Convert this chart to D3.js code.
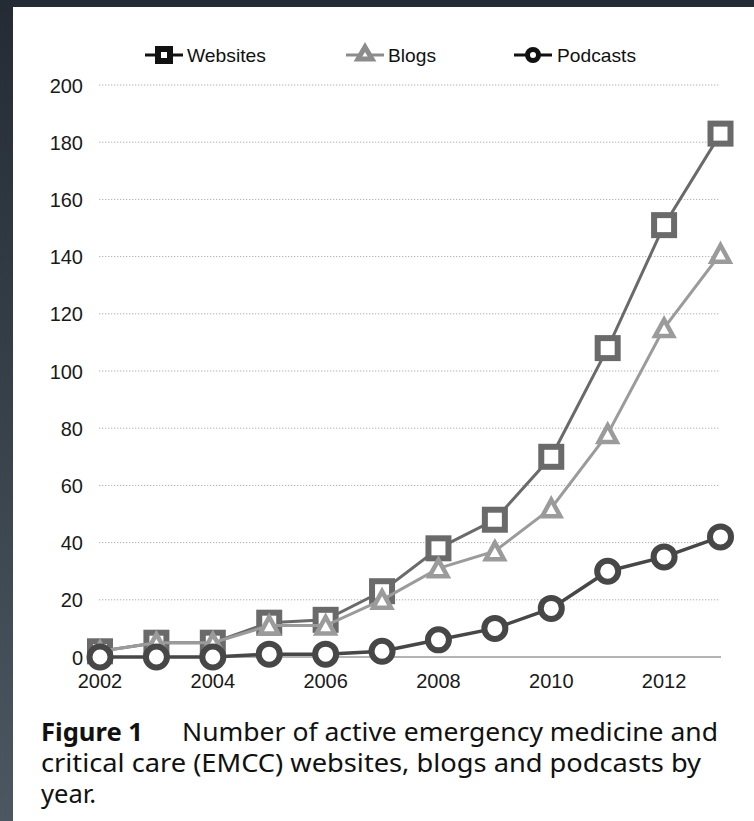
<!DOCTYPE html>
<html>
<head>
<meta charset="utf-8">
<script src="https://cdn.jsdelivr.net/npm/d3@7"></script>
<style>
  html, body { margin: 0; padding: 0; }
  body {
    width: 754px; height: 821px; overflow: hidden;
    background: linear-gradient(#242b34, #4c5761);
  }
  #chart { position: absolute; left: 0; top: 0; }
</style>
</head>
<body>
<div id="chart"></div>
<script>
// data
var years = [2002, 2003, 2004, 2005, 2006, 2007, 2008, 2009, 2010, 2011, 2012, 2013];
var websites = [2, 5, 5, 12, 13, 23, 38, 48, 70, 108, 151, 183];
var blogs = [2, 5, 5, 11, 11, 20, 31, 37, 52, 78, 115, 141];
var podcasts = [0, 0, 0, 1, 1, 2, 6, 10, 17, 30, 35, 42];
var yTicks = [0, 20, 40, 60, 80, 100, 120, 140, 160, 180, 200];
var xTicks = [2002, 2004, 2006, 2008, 2010, 2012];
var seriesNames = ["Websites", "Blogs", "Podcasts"];
var captionLines = [
  "Number of active emergency medicine and",
  "critical care (EMCC) websites, blogs and podcasts by",
  "year."
];

var W = 754, H = 821;

var svg = d3.select("#chart").append("svg")
  .attr("width", W).attr("height", H);

// white page
svg.append("rect").attr("x", 13).attr("y", 7)
  .attr("width", W - 13).attr("height", H - 7).attr("fill", "#fff");

var x = d3.scaleLinear().domain([2002, 2013]).range([100, 720.5]);
var y = d3.scaleLinear().domain([0, 200]).range([657, 85]);

var tickFont = "'Liberation Sans', Arial, sans-serif";

// dotted gridlines
svg.append("g").selectAll("line").data(yTicks.filter(function (d) { return d > 0; }))
  .enter().append("line")
  .attr("x1", 99).attr("x2", 720)
  .attr("y1", function (d) { return y(d); }).attr("y2", function (d) { return y(d); })
  .attr("stroke", "#b0b0b0").attr("stroke-width", 1)
  .attr("stroke-dasharray", "1.3,1.7");

// baseline
svg.append("line").attr("x1", 100).attr("x2", 721)
  .attr("y1", y(0)).attr("y2", y(0))
  .attr("stroke", "#9a9a9a").attr("stroke-width", 1.5);

// y labels
svg.append("g").selectAll("text").data(yTicks).enter().append("text")
  .attr("x", 83).attr("y", function (d) { return y(d) + 7.5; })
  .attr("text-anchor", "end")
  .attr("font-family", tickFont).attr("font-size", 20).attr("fill", "#1a1a1a")
  .text(function (d) { return d; });

// x labels
svg.append("g").selectAll("text").data(xTicks).enter().append("text")
  .attr("x", function (d) { return x(d); }).attr("y", 688)
  .attr("text-anchor", "middle")
  .attr("font-family", tickFont).attr("font-size", 20).attr("fill", "#1a1a1a")
  .text(function (d) { return d; });

function rows(vals) {
  return years.map(function (yr, i) { return { year: yr, value: vals[i] }; });
}

var line = d3.line()
  .x(function (d) { return x(d.year); })
  .y(function (d) { return y(d.value); });

var triPath = "M0,-9.5 L9,7 L-9,7 Z";

// websites
var wData = rows(websites);
svg.append("path").datum(wData).attr("d", line)
  .attr("fill", "none").attr("stroke", "#6a6a6a").attr("stroke-width", 3);
svg.append("g").selectAll("rect").data(wData).enter().append("rect")
  .attr("x", function (d) { return x(d.year) - 10; })
  .attr("y", function (d) { return y(d.value) - 10; })
  .attr("width", 20).attr("height", 20)
  .attr("fill", "#fff").attr("stroke", "#6a6a6a").attr("stroke-width", 6);

// blogs
var bData = rows(blogs);
svg.append("path").datum(bData).attr("d", line)
  .attr("fill", "none").attr("stroke", "#9b9b9b").attr("stroke-width", 3);
svg.append("g").selectAll("path").data(bData).enter().append("path")
  .attr("d", triPath)
  .attr("transform", function (d) { return "translate(" + x(d.year) + "," + (y(d.value) + 1) + ")"; })
  .attr("fill", "#fff").attr("stroke", "#9b9b9b").attr("stroke-width", 4.5)
  .attr("stroke-linejoin", "miter");

// podcasts
var pData = rows(podcasts);
svg.append("path").datum(pData).attr("d", line)
  .attr("fill", "none").attr("stroke", "#474747").attr("stroke-width", 3.5);
svg.append("g").selectAll("circle").data(pData).enter().append("circle")
  .attr("cx", function (d) { return x(d.year); })
  .attr("cy", function (d) { return y(d.value); })
  .attr("r", 10.5)
  .attr("fill", "#fff").attr("stroke", "#474747").attr("stroke-width", 6);

// legend
var legend = [
  { name: seriesNames[0], x0: 145, tx: 187, tw: 79, color: "#111", kind: "square" },
  { name: seriesNames[1], x0: 346, tx: 388, tw: 48, color: "#8c8c8c", kind: "tri" },
  { name: seriesNames[2], x0: 514, tx: 557, tw: 79, color: "#111", kind: "circle" }
];
var ly = 55;
var lg = svg.append("g").selectAll("g").data(legend).enter().append("g");
lg.append("line")
  .attr("x1", function (d) { return d.x0; }).attr("x2", function (d) { return d.x0 + 38; })
  .attr("y1", ly).attr("y2", ly)
  .attr("stroke", function (d) { return d.color; }).attr("stroke-width", 3);
lg.each(function (d) {
  var g = d3.select(this), cx = d.x0 + 19;
  if (d.kind === "square") {
    g.append("rect").attr("x", cx - 6).attr("y", ly - 6).attr("width", 12).attr("height", 12)
      .attr("fill", "#fff").attr("stroke", d.color).attr("stroke-width", 6);
  } else if (d.kind === "tri") {
    g.append("path").attr("d", "M0,-7 L7,5 L-7,5 Z")
      .attr("transform", "translate(" + cx + "," + (ly - 1) + ")")
      .attr("fill", "#fff").attr("stroke", d.color).attr("stroke-width", 5);
  } else {
    g.append("circle").attr("cx", cx).attr("cy", ly).attr("r", 5.5)
      .attr("fill", "#fff").attr("stroke", d.color).attr("stroke-width", 5);
  }
});
lg.append("text")
  .attr("x", function (d) { return d.tx; }).attr("y", ly + 7)
  .attr("font-family", tickFont).attr("font-size", 19).attr("fill", "#111")
  .attr("textLength", function (d) { return d.tw; })
  .attr("lengthAdjust", "spacingAndGlyphs")
  .text(function (d) { return d.name; });

// caption
var capFont = "'Noto Sans', 'Open Sans', sans-serif";
svg.append("text").attr("x", 41).attr("y", 741)
  .attr("font-family", capFont).attr("font-size", 25).attr("font-weight", "bold")
  .attr("fill", "#111").attr("textLength", 102).attr("lengthAdjust", "spacingAndGlyphs")
  .text("Figure 1");
var capWidths = [536, 660, 55];
var capX = [182, 41, 41];
var capY = [741, 772, 803];
captionLines.forEach(function (t, i) {
  svg.append("text").attr("x", capX[i]).attr("y", capY[i])
    .attr("font-family", capFont).attr("font-size", 25)
    .attr("fill", "#111").attr("textLength", capWidths[i]).attr("lengthAdjust", "spacingAndGlyphs")
    .text(t);
});
</script>
</body>
</html>
